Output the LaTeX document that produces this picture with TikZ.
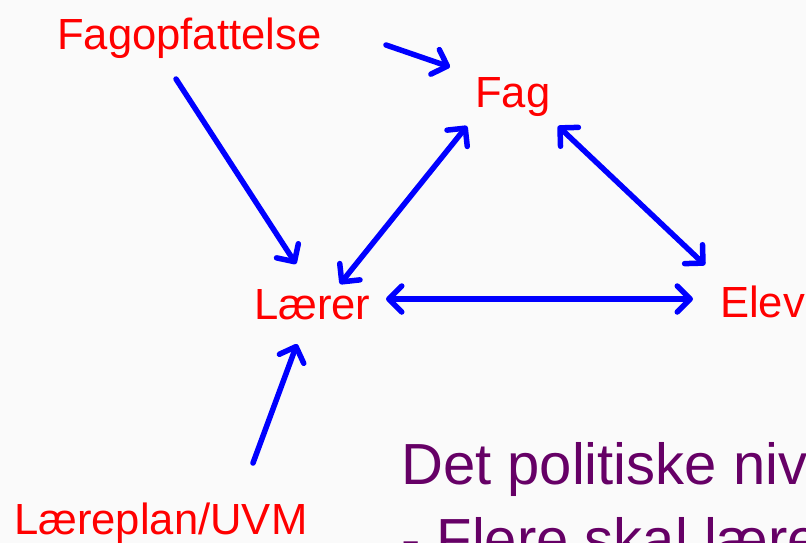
\documentclass[tikz,border=0pt]{standalone}
\usepackage{fontspec}
\setmainfont{Liberation Sans}
\usetikzlibrary{arrows.meta}
\definecolor{bgc}{RGB}{250,250,250}
\definecolor{lbl}{RGB}{255,0,0}
\definecolor{arr}{RGB}{0,0,255}
\definecolor{pol}{RGB}{102,0,102}
\tikzset{
  lab/.style={anchor=base west, inner sep=0pt, text=lbl, font=\fontsize{43.6}{50}\selectfont},
  big/.style={anchor=base west, inner sep=0pt, text=pol, font=\fontsize{58}{75}\selectfont},
  barb/.tip={Straight Barb[length=13pt, width=26pt, line cap=round, line join=round]},
  con/.style={draw=arr, line width=5.5pt, line cap=round, -barb},
  dcon/.style={draw=arr, line width=5.5pt, line cap=round, barb-barb}
}
\begin{document}
\begin{tikzpicture}[x=1pt,y=-1pt]
\fill[bgc] (0,0) rectangle (806,543);
\useasboundingbox (0,0) rectangle (806,543);
\clip (0,0) rectangle (806,543);
\node[lab] (fagopf) at (57,50) {Fagopfattelse};
\node[lab] (fag) at (475,107) {Fag};
\node[lab] (laerer) at (254,319) {Lærer};
\node[lab] (elev) at (720,317) {Elev};
\node[lab] (plan) at (14,534) {Læreplan/UVM};
\node[big] (pol1) at (401,484) {Det politiske niveau};
\node[big] (pol2) at (401,559) {- Flere skal lære mere};
\coordinate (a1s) at (386,45);
\coordinate (a1e) at (450,67);
\coordinate (a2s) at (176,79);
\coordinate (a2e) at (296,264);
\coordinate (a3s) at (340,284);
\coordinate (a3e) at (467,126);
\coordinate (a4s) at (558,126);
\coordinate (a4e) at (705,265);
\coordinate (a5s) at (386,299);
\coordinate (a5e) at (693,299);
\coordinate (a6s) at (253,463);
\coordinate (a6e) at (297,344);
\draw[con] (a1s) -- (a1e);
\draw[con] (a2s) -- (a2e);
\draw[dcon] (a3s) -- (a3e);
\draw[dcon] (a4s) -- (a4e);
\draw[dcon] (a5s) -- (a5e);
\draw[con] (a6s) -- (a6e);
\end{tikzpicture}
\end{document}
